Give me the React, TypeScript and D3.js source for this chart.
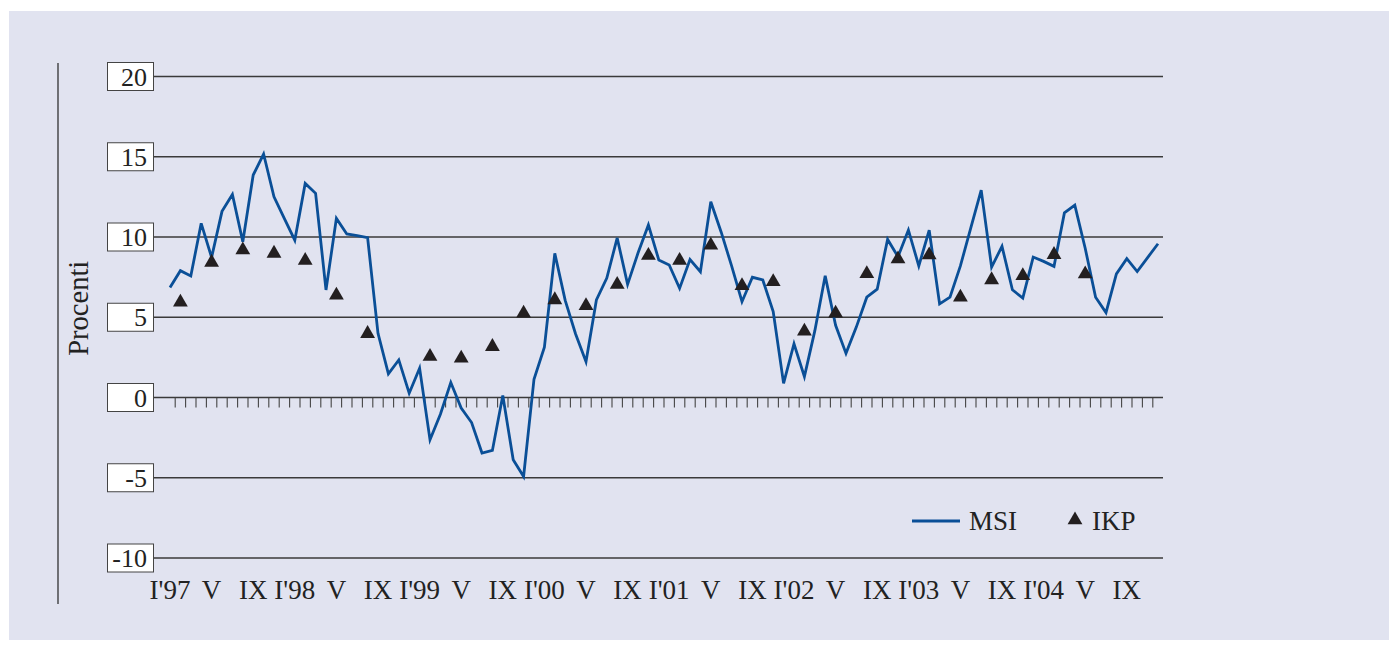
import React, { useEffect, useRef } from 'react';
import * as d3 from 'd3';

// MSI, monthly, I'97 .. XII'04 (%)
const msiValues = [
  6.85, 7.9, 7.57, 10.85, 8.73, 11.6, 12.65, 9.7, 13.86, 15.17, 12.5, 11.15,
  9.8, 13.34, 12.72, 6.7, 11.16, 10.19, 10.08, 9.96, 4.0, 1.47, 2.34, 0.27,
  1.83, -2.63, -1.04, 0.93, -0.66, -1.56, -3.46, -3.3, 0.12, -3.88, -4.92, 1.14,
  3.13, 8.98, 6.05, 3.96, 2.23, 6.08, 7.44, 9.94, 7.05, 9.0, 10.75, 8.57,
  8.26, 6.8, 8.6, 7.84, 12.2, 10.3, 8.2, 5.97, 7.49, 7.32, 5.35, 0.88,
  3.35, 1.3, 4.15, 7.58, 4.5, 2.75, 4.4, 6.25, 6.75, 9.85, 8.77, 10.43,
  8.2, 10.42, 5.83, 6.25, 8.2, 10.57, 12.92, 8.13, 9.42, 6.71, 6.19, 8.75,
  8.48, 8.17, 11.5, 11.98, 9.3, 6.25, 5.29, 7.7, 8.65, 7.85, 8.72, 9.58
];

// IKP, quarterly (plotted at middle month of quarter), null = no value
const ikpValues = [
  5.93, 8.42, 9.19, 8.98, 8.53, 6.37, 3.98, null,
  2.55, 2.45, 3.17, 5.25, 6.08, 5.72, 7.04, 8.85,
  8.54, 9.48, 6.96, 7.21, 4.13, 5.25, 7.71, 8.63,
  8.88, 6.25, 7.33, 7.58, 8.9, 7.69
];

const yTicks = [20, 15, 10, 5, 0, -5, -10];

// label every 4 months
const xLabels = [
  "I'97", 'V', 'IX', "I'98", 'V', 'IX', "I'99", 'V', 'IX', "I'00", 'V', 'IX',
  "I'01", 'V', 'IX', "I'02", 'V', 'IX', "I'03", 'V', 'IX', "I'04", 'V', 'IX'
];

const seriesNames = ['MSI', 'IKP'];

const W = 1397;
const H = 648;
const FONT = '"Liberation Serif", "DejaVu Serif", serif';

const App = () => {
  const svgRef = useRef(null);

  useEffect(() => {
    document.body.style.margin = '0';
    const svg = d3.select(svgRef.current);
    svg.selectAll('*').remove();

    svg.append('rect')
      .attr('x', 9).attr('y', 11)
      .attr('width', 1380).attr('height', 629)
      .attr('fill', '#e1e3f0');

    const x = d3.scaleLinear().domain([0, msiValues.length - 1]).range([170, 1158]);
    const y = d3.scaleLinear().domain([-10, 20]).range([558, 76.5]);

    // left axis rule
    svg.append('line')
      .attr('x1', 58).attr('x2', 58)
      .attr('y1', 63).attr('y2', 604)
      .attr('stroke', '#222').attr('stroke-width', 1.2);

    svg.append('text')
      .attr('transform', `translate(88,${y(5) - 9}) rotate(-90)`)
      .attr('text-anchor', 'middle')
      .attr('font-family', FONT)
      .attr('font-size', 28.5)
      .attr('fill', '#222')
      .text('Procenti');

    // grid + boxed labels
    yTicks.forEach(t => {
      svg.append('line')
        .attr('x1', 153).attr('x2', 1163)
        .attr('y1', y(t)).attr('y2', y(t))
        .attr('stroke', '#3a3a3a').attr('stroke-width', 1.3);
      svg.append('rect')
        .attr('x', 107.5).attr('y', y(t) - 14)
        .attr('width', 46).attr('height', 28)
        .attr('fill', '#fff').attr('stroke', '#444').attr('stroke-width', 1);
      svg.append('text')
        .attr('x', 147).attr('y', y(t) + 9)
        .attr('text-anchor', 'end')
        .attr('font-family', FONT)
        .attr('font-size', 26)
        .attr('fill', '#222')
        .text(t);
    });

    // month ticks on zero line
    d3.range(msiValues.length - 1).forEach(i => {
      svg.append('line')
        .attr('x1', x(i + 0.5)).attr('x2', x(i + 0.5))
        .attr('y1', y(0)).attr('y2', y(0) + 10)
        .attr('stroke', '#444').attr('stroke-width', 1.1);
    });

    // x labels
    xLabels.forEach((lab, k) => {
      svg.append('text')
        .attr('x', x(k * 4)).attr('y', 599)
        .attr('text-anchor', 'middle')
        .attr('font-family', FONT)
        .attr('font-size', 27)
        .attr('fill', '#222')
        .text(lab);
    });

    const line = d3.line()
      .x((d, i) => x(i))
      .y(d => y(d));

    svg.append('path')
      .datum(msiValues)
      .attr('fill', 'none')
      .attr('stroke', '#0a4f97')
      .attr('stroke-width', 2.8)
      .attr('stroke-linejoin', 'miter')
      .attr('d', line);

    const tri = d3.symbol().type(d3.symbolTriangle).size(95);

    ikpValues.forEach((v, k) => {
      if (v == null) return;
      svg.append('path')
        .attr('d', tri())
        .attr('transform', `translate(${x(1 + k * 3)},${y(v)})`)
        .attr('fill', '#231f20');
    });

    // legend
    svg.append('line')
      .attr('x1', 912).attr('x2', 960)
      .attr('y1', 521).attr('y2', 521)
      .attr('stroke', '#0a4f97').attr('stroke-width', 2.8);
    svg.append('text')
      .attr('x', 969).attr('y', 530)
      .attr('font-family', FONT).attr('font-size', 27).attr('fill', '#222')
      .text(seriesNames[0]);
    svg.append('path')
      .attr('d', tri())
      .attr('transform', 'translate(1075,520)')
      .attr('fill', '#231f20');
    svg.append('text')
      .attr('x', 1092).attr('y', 530)
      .attr('font-family', FONT).attr('font-size', 27).attr('fill', '#222')
      .text(seriesNames[1]);
  }, []);

  return (
    <svg
      ref={svgRef}
      width={W}
      height={H}
      style={{ position: 'absolute', left: 0, top: 0, background: '#fff' }}
    />
  );
};

export default App;
